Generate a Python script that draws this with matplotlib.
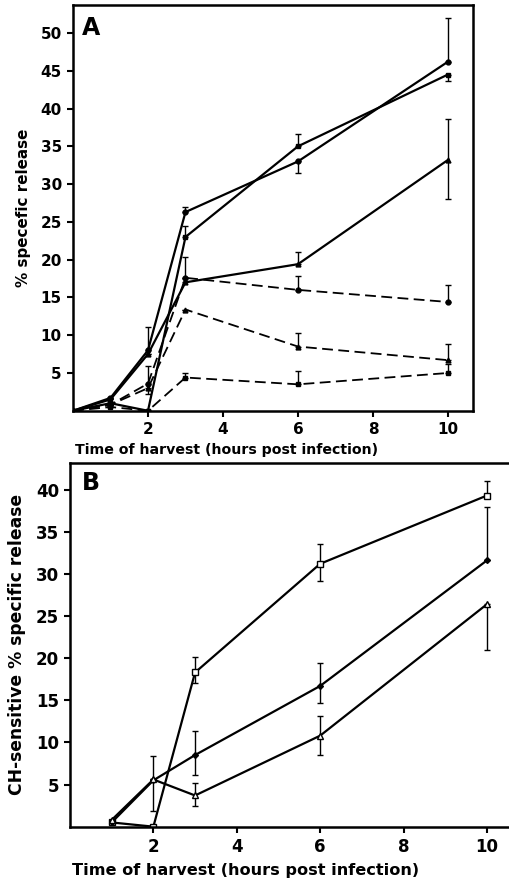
import matplotlib
matplotlib.use("Agg")
import matplotlib.pyplot as plt
import numpy as np

FONT = ['DejaVu Sans Condensed', 'DejaVu Sans']
plt.rcParams['font.family'] = FONT
plt.rcParams['font.weight'] = 'bold'

# ---------------- Panel A data ----------------
xA = [0, 1, 2, 3, 6, 10]
a1 = [0, 1.7, 8.0, 26.3, 33.0, 46.2]
a1_up = [0, 0, 3.1, 0.7, 0, 5.8]
a1_dn = [0, 0, 0, 0, 1.5, 0]
a2 = [0, 1.0, 0.0, 23.0, 35.0, 44.5]
a2_up = [0, 0, 0, 1.5, 1.6, 0]
a2_dn = [0, 0, 0, 0, 0, 0.9]
a3 = [0, 1.5, 7.5, 17.0, 19.4, 33.2]
a3_up = [0, 0, 0, 3.4, 1.6, 5.4]
a3_dn = [0, 0, 0, 0, 0, 5.2]
d1 = [0, 0.8, 3.6, 17.6, 16.0, 14.4]
d1_up = [0, 0, 2.3, 0, 1.8, 2.3]
d1_dn = [0, 0, 0, 0, 0, 0]
d2 = [0, 0.8, 3.0, 13.4, 8.5, 6.7]
d2_up = [0, 0, 0, 0, 1.8, 2.1]
d2_dn = [0, 0, 0.8, 0, 0, 0]
d3 = [0, 0.5, 0.0, 4.4, 3.5, 5.0]
d3_up = [0, 0, 0, 0.6, 1.8, 1.2]
d3_dn = [0, 0, 0, 0, 0, 0]

# ---------------- Panel B data ----------------
xB = [1, 2, 3, 6, 10]
b_sq = [0.5, 0.0, 18.3, 31.2, 39.3]
b_sq_up = [0, 0, 1.8, 2.4, 1.7]
b_sq_dn = [0, 0, 1.2, 2.0, 0]
b_di = [0.5, 5.5, 8.5, 16.7, 31.6]
b_di_up = [0, 2.9, 2.8, 2.7, 6.3]
b_di_dn = [0, 3.7, 2.4, 2.0, 0]
b_tr = [0.8, 5.6, 3.7, 10.8, 26.4]
b_tr_up = [0, 0, 1.5, 2.3, 0]
b_tr_dn = [0, 0, 1.3, 2.3, 5.4]

xticks = [2, 4, 6, 8, 10]
yticksA = [5, 10, 15, 20, 25, 30, 35, 40, 45, 50]
yticksB = [5, 10, 15, 20, 25, 30, 35, 40]

fig = plt.figure(figsize=(5.09, 8.83), dpi=100)

axA = fig.add_axes([0.1434, 0.5348, 0.786, 0.4595])
axB = fig.add_axes([0.1375, 0.0638, 0.874, 0.4122])

def series(ax, x, y, up, dn, marker, ls, mfc='black', ms=3.5, lw=1.6):
    ax.errorbar(x, y, yerr=[dn, up], fmt='none', ecolor='black',
                elinewidth=1.0, capsize=2.5, capthick=1.0)
    ax.plot(x, y, color='black', lw=lw, linestyle=ls, marker=marker,
            ms=ms, mfc=mfc, mec='black', mew=1.0)

dash = (0, (6, 3))
series(axA, xA, a1, a1_up, a1_dn, 'o', '-')
series(axA, xA, a2, a2_up, a2_dn, 's', '-', ms=3)
series(axA, xA, a3, a3_up, a3_dn, '^', '-')
series(axA, xA, d1, d1_up, d1_dn, 'o', dash, lw=1.3)
series(axA, xA, d2, d2_up, d2_dn, '^', dash, lw=1.3)
series(axA, xA, d3, d3_up, d3_dn, 's', dash, lw=1.3, ms=3)

series(axB, xB, b_sq, b_sq_up, b_sq_dn, 's', '-', mfc='white', ms=4.5)
series(axB, xB, b_di, b_di_up, b_di_dn, 'D', '-', ms=3)
series(axB, xB, b_tr, b_tr_up, b_tr_dn, '^', '-', mfc='white', ms=4.5)

for ax, yt, ylim, fs in [(axA, yticksA, (0, 53.7), 11), (axB, yticksB, (0, 43.2), 12)]:
    ax.set_xlim(0, 10.67)
    ax.set_ylim(*ylim)
    ax.set_xticks(xticks)
    ax.set_yticks(yt)
    ax.tick_params(axis='both', direction='out', length=4, width=1.5,
                   labelsize=fs, pad=4)
    for lab in ax.get_xticklabels() + ax.get_yticklabels():
        lab.set_fontweight('bold')
    for sp in ax.spines.values():
        sp.set_linewidth(1.8)

axA.set_ylabel('% specefic release', fontsize=10.9, fontweight='bold', labelpad=7)
axB.set_ylabel('CH-sensitive % specific release', fontsize=12.3, fontweight='bold', labelpad=7)

fig.text(82 / 509, 1 - 16 / 883, 'A', fontsize=17, fontweight='bold',
         va='top', ha='left')
fig.text(82 / 509, 1 - 471 / 883, 'B', fontsize=17, fontweight='bold',
         va='top', ha='left')

fig.text(75 / 509, 1 - 450 / 883, 'Time of harvest (hours post infection)',
         fontsize=10.2, fontweight='bold', ha='left', va='center')
fig.text(72 / 509, 1 - 870 / 883, 'Time of harvest (hours post infection)',
         fontsize=11.6, fontweight='bold', ha='left', va='center')

fig.savefig('out.png', dpi=100)
